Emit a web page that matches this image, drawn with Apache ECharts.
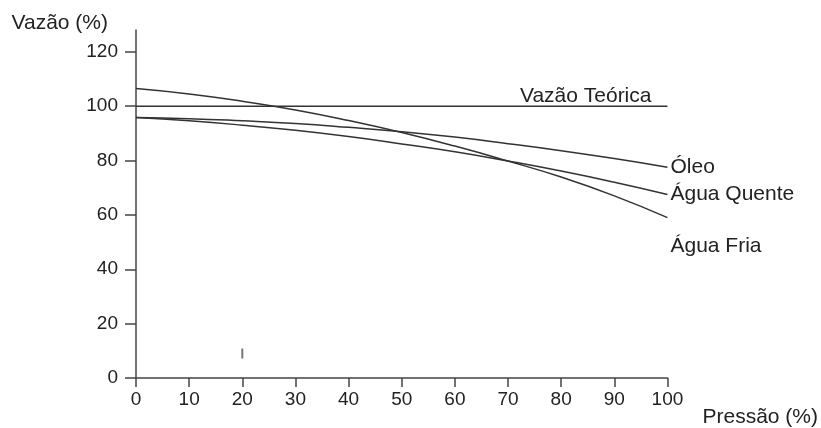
<!DOCTYPE html>
<html>
<head>
<meta charset="utf-8">
<script src="https://cdn.jsdelivr.net/npm/echarts@6/dist/echarts.min.js"></script>
<style>
  html, body { margin: 0; padding: 0; background: #fff; }
  #chart { width: 821px; height: 428px; }
</style>
</head>
<body>
<div id="chart"></div>
<script>
// eixo x: pressão (%)
const pressao = [0, 10, 20, 30, 40, 50, 60, 70, 80, 90, 100];
const ticksY = [0, 20, 40, 60, 80, 100, 120];

// vazão (%)
const teorica = [100, 100, 100, 100, 100, 100, 100, 100, 100, 100, 100];
const aguaFria = [106.5, 104.5, 101.8, 98.6, 94.7, 90.3, 85.3, 79.8, 73.9, 67.0, 59];
const aguaQuente = [95.8, 94.6, 93.0, 91.1, 88.8, 86.1, 83.2, 79.8, 76.1, 72.0, 67.5];
const oleo = [95.8, 95.4, 94.6, 93.6, 92.2, 90.6, 88.6, 86.2, 83.6, 80.7, 77.5];

// pequeno traço perto de x=20
const marca = [[20, 9]];

const fonte = '"Liberation Sans", Arial, sans-serif';
const cor = '#333';
const txt = { color: '#222', fontFamily: fonte, fontSize: 21 };

const pares = (vals) => pressao.map((x, i) => [x, vals[i]]);

let myChart = echarts.init(document.getElementById('chart'));

const linha = (nome, vals, offset, align) => ({
  name: nome,
  type: 'line',
  data: pares(vals),
  smooth: true,
  symbol: 'none',
  lineStyle: { color: cor, width: 1.5 },
  endLabel: Object.assign({
    show: true,
    formatter: nome,
    distance: align === 'right' ? 0 : 3,
    offset: offset,
    align: align || 'left'
  }, txt),
  silent: true
});

myChart.setOption({
  animation: false,
  grid: { left: 136, right: 153, top: 30, bottom: 50 },
  xAxis: {
    type: 'value',
    min: 0,
    max: 100,
    interval: 10,
    name: 'Pressão (%)',
    nameLocation: 'end',
    nameGap: 35,
    nameTextStyle: Object.assign({ verticalAlign: 'top', align: 'left', padding: [29, 0, 0, 0] }, txt),
    axisLine: { show: true, lineStyle: { color: '#444', width: 1.5 } },
    axisTick: { show: true, length: 9, lineStyle: { color: '#444', width: 1.5 } },
    axisLabel: { color: '#222', fontFamily: fonte, fontSize: 19, margin: 12 },
    splitLine: { show: false }
  },
  yAxis: {
    type: 'value',
    min: 0,
    max: 128,
    name: 'Vazão (%)',
    nameLocation: 'end',
    nameGap: -4,
    nameTextStyle: Object.assign({ align: 'right', padding: [0, 28, 0, 0] }, txt),
    axisLine: { show: true, lineStyle: { color: '#444', width: 1.5 } },
    axisTick: { show: true, length: 11, customValues: ticksY, lineStyle: { color: '#444', width: 1.5 } },
    axisLabel: { color: '#222', fontFamily: fonte, fontSize: 19, margin: 18, customValues: ticksY },
    splitLine: { show: false }
  },
  series: [
    linha('Vazão Teórica', teorica, [-16, -10], 'right'),
    linha('Óleo', oleo, [0, 0]),
    linha('Água Quente', aguaQuente, [0, 0]),
    linha('Água Fria', aguaFria, [0, 29]),
    {
      type: 'scatter',
      data: marca,
      symbol: 'rect',
      symbolSize: [2, 10],
      itemStyle: { color: '#555' },
      silent: true
    }
  ]
});
</script>
</body>
</html>
